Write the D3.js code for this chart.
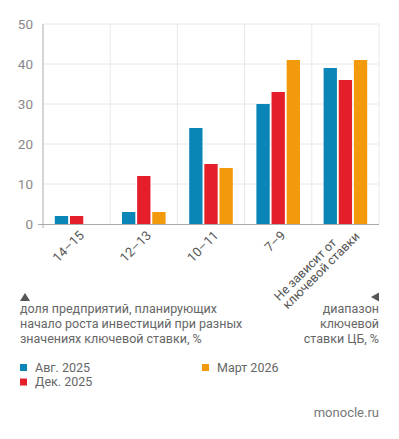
<!DOCTYPE html>
<html><head><meta charset="utf-8">
<script src="https://cdn.jsdelivr.net/npm/d3@7"></script>
<style>body{margin:0;background:#fff}svg{display:block;font-family:Roboto,sans-serif}</style>
</head><body>
<svg id="c" width="399" height="439"></svg>
<script>
const categories = ["14–15","12–13","10–11","7–9","Не зависит от|ключевой ставки"];
const seriesNames = ["Авг. 2025","Дек. 2025","Март 2026"];
const aug2025 = [2,3,24,30,39];
const dec2025 = [2,12,15,33,36];
const mar2026 = [null,3,14,41,41];
const yTicks = [0,10,20,30,40,50];
const colors = ["#0a85b8","#e41f29","#f39a0c"];
const seriesValues = [aug2025, dec2025, mar2026];

const svg = d3.select("#c");
const x = d3.scaleBand().domain(categories).range([43,379]).padding(0);
const y = d3.scaleLinear().domain([0,50]).range([224,24]);
const inner = d3.scaleBand().domain(seriesNames).range([0,x.bandwidth()]).paddingInner(0.12).paddingOuter(0.78);

// gridlines
svg.append("g").selectAll("line").data(yTicks.slice(1)).join("line")
  .attr("x1",43).attr("x2",379).attr("y1",d=>y(d)).attr("y2",d=>y(d))
  .attr("stroke","#e8e8e8").attr("stroke-width",1);
svg.append("g").selectAll("line").data(categories).join("line")
  .attr("x1",d=>x(d)+x.bandwidth()).attr("x2",d=>x(d)+x.bandwidth())
  .attr("y1",24).attr("y2",224).attr("stroke","#e8e8e8");

// bars
categories.forEach((c,i)=>{
  seriesNames.forEach((s,j)=>{
    const v = seriesValues[j][i];
    if(v==null) return;
    svg.append("rect").attr("x",x(c)+inner(s)).attr("width",inner.bandwidth())
      .attr("y",y(v)).attr("height",y(0)-y(v)).attr("fill",colors[j]);
  });
});

// axes
const yAxis = d3.axisLeft(y).tickValues(yTicks).tickSize(0).tickPadding(10);
const gy = svg.append("g").attr("transform","translate(43,0)").call(yAxis);
gy.select(".domain").remove();
gy.selectAll("text").attr("fill","#888").style("font-size","13.5px").style("font-family","Roboto");
svg.append("line").attr("x1",43).attr("x2",43).attr("y1",24).attr("y2",228).attr("stroke","#aaa");
svg.append("line").attr("x1",38).attr("x2",379).attr("y1",224.5).attr("y2",224.5).attr("stroke","#aaa");

// x labels
categories.forEach(c=>{
  const cx = x(c)+x.bandwidth()/2+5;
  const lines = c.split("|");
  const g = svg.append("g").attr("transform",`translate(${cx},233) rotate(-45)`);
  if(lines.length===1){
    g.append("text").attr("text-anchor","end").attr("dy","0.35em").attr("fill","#555")
      .style("font-size","13px").text(lines[0]);
  } else {
    const ts = lines.map((l,k)=>g.append("text").attr("fill","#555").style("font-size","12.5px")
      .attr("dy",(0.35 - 0.5*(lines.length-1) + k*0.95)+"em").text(l));
    const w = d3.max(ts,t=>t.node().getComputedTextLength());
    ts.forEach(t=>t.attr("x",-w+4));
  }
});

// annotations
svg.append("path").attr("d","M20,301 L25,293 L30,301 Z").attr("fill","#555");
const leftLines = ["доля предприятий, планирующих","начало роста инвестиций при разных","значениях ключевой ставки, %"];
leftLines.forEach((d,i)=>svg.append("text").attr("fill","#666").style("font-size","12.5px")
  .attr("x",20).attr("y",313+i*14.8).text(d));
svg.append("path").attr("d","M371,297 L379,292.5 L379,301.5 Z").attr("fill","#555");
const rightLines = ["диапазон","ключевой","ставки ЦБ, %"];
rightLines.forEach((d,i)=>svg.append("text").attr("fill","#666").style("font-size","12.5px")
  .attr("text-anchor","end").attr("x",379).attr("y",313+i*14.8).text(d));

// legend
const legPos = [[20,367.5],[20,382],[202,367.5]];
seriesNames.forEach((s,j)=>{
  svg.append("rect").attr("x",legPos[j][0]).attr("y",legPos[j][1]-3.5).attr("width",7).attr("height",7).attr("fill",colors[j]);
  svg.append("text").attr("x",legPos[j][0]+15).attr("y",legPos[j][1]).attr("dy","0.35em").attr("fill","#666")
    .style("font-size","12.5px").text(s);
});

svg.append("text").attr("x",379).attr("y",417).attr("text-anchor","end").attr("fill","#777")
  .style("font-size","13px").text("monocle.ru");
</script>
</body></html>
